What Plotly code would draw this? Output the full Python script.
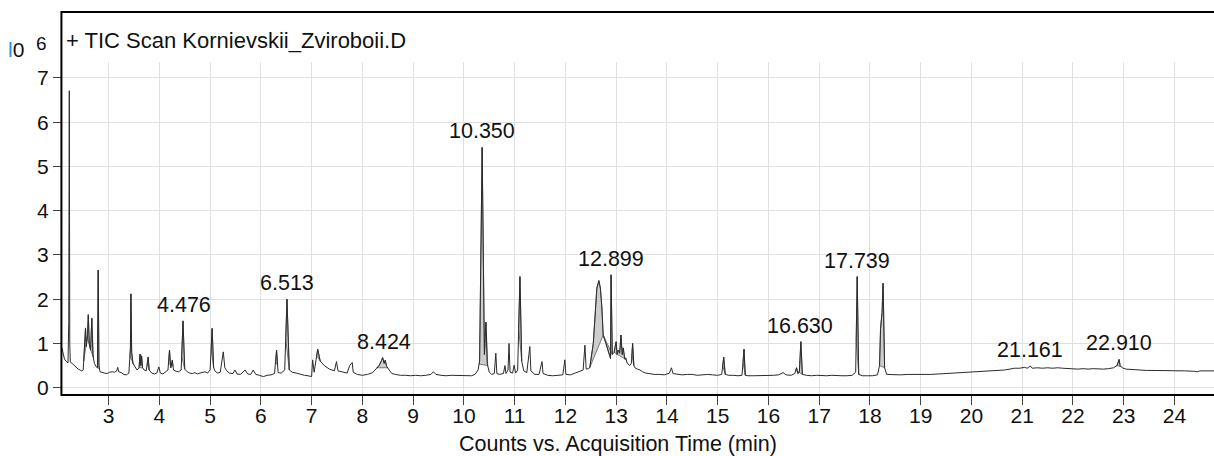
import plotly.graph_objects as go

# ---- data: retention time (min) and counts (x10^6) ----
rt = [2.08, 2.10, 2.13, 2.16, 2.20, 2.215, 2.226, 2.235, 2.245, 2.28, 2.32, 2.36, 2.40, 2.44, 2.47,
      2.50, 2.53, 2.545, 2.56, 2.585, 2.60, 2.62, 2.645, 2.67, 2.69, 2.72, 2.75, 2.78, 2.795, 2.81,
      2.83, 2.87, 2.92, 2.97, 3.02, 3.07, 3.12, 3.16, 3.18, 3.20, 3.25, 3.30, 3.35, 3.40, 3.43,
      3.44, 3.455, 3.48, 3.52, 3.56, 3.60, 3.62, 3.635, 3.65, 3.67, 3.70, 3.74, 3.78, 3.80, 3.85,
      3.90, 3.95, 3.99, 4.02, 4.07, 4.12, 4.17, 4.20, 4.225, 4.255, 4.28, 4.33, 4.38, 4.43, 4.466,
      4.50, 4.55, 4.60, 4.65, 4.70, 4.75, 4.80, 4.85, 4.90, 4.95, 5.00, 5.04, 5.07, 5.10, 5.15,
      5.20, 5.26, 5.29, 5.33, 5.38, 5.45, 5.49, 5.53, 5.60, 5.69, 5.74, 5.80, 5.85, 5.90, 5.97,
      6.05, 6.12, 6.20, 6.27, 6.31, 6.34, 6.40, 6.47, 6.515, 6.56, 6.62, 6.70, 6.78, 6.86, 6.93,
      7.00, 7.02, 7.05, 7.12, 7.17, 7.25, 7.35, 7.45, 7.49, 7.52, 7.60, 7.70, 7.75, 7.80, 7.82,
      7.90, 8.00, 8.10, 8.20, 8.28, 8.33, 8.38, 8.40, 8.43, 8.45, 8.48, 8.52, 8.58, 8.65, 8.75,
      8.85, 8.95, 9.05, 9.15, 9.25, 9.35, 9.40, 9.45, 9.55, 9.65, 9.75, 9.85, 9.95, 10.05, 10.15,
      10.22, 10.28, 10.31, 10.36, 10.405, 10.435, 10.46, 10.50, 10.55, 10.60, 10.63, 10.65, 10.70, 10.78, 10.81,
      10.83, 10.87, 10.89, 10.91, 10.96, 10.99, 11.02, 11.06, 11.105, 11.14, 11.18, 11.24, 11.30, 11.32, 11.40,
      11.48, 11.54, 11.56, 11.65, 11.75, 11.85, 11.95, 11.99, 12.01, 12.10, 12.20, 12.30, 12.35, 12.385, 12.41,
      12.45, 12.48, 12.55, 12.62, 12.66, 12.69, 12.72, 12.745, 12.80, 12.85, 12.89, 12.90, 12.925, 12.96, 13.00,
      13.02, 13.04, 13.07, 13.095, 13.12, 13.14, 13.17, 13.19, 13.22, 13.27, 13.30, 13.325, 13.35, 13.37, 13.42,
      13.47, 13.52, 13.58, 13.65, 13.75, 13.85, 13.95, 14.05, 14.09, 14.12, 14.20, 14.30, 14.40, 14.50, 14.60,
      14.70, 14.80, 14.90, 15.00, 15.08, 15.12, 15.15, 15.22, 15.30, 15.40, 15.48, 15.52, 15.545, 15.60, 15.70,
      15.80, 15.90, 16.00, 16.10, 16.20, 16.29, 16.35, 16.45, 16.52, 16.555, 16.58, 16.61, 16.64, 16.67, 16.75,
      16.85, 16.95, 17.05, 17.15, 17.25, 17.35, 17.45, 17.55, 17.65, 17.72, 17.75, 17.78, 17.85, 17.95, 18.05,
      18.15, 18.19, 18.21, 18.24, 18.26, 18.29, 18.33, 18.45, 18.60, 18.75, 18.90, 19.05, 19.20, 19.35, 19.50,
      19.70, 19.90, 20.10, 20.30, 20.36, 20.50, 20.65, 20.76, 20.85, 20.95, 21.00, 21.05, 21.10, 21.161, 21.20,
      21.30, 21.40, 21.50, 21.60, 21.70, 21.80, 21.90, 22.00, 22.10, 22.20, 22.30, 22.40, 22.50, 22.60, 22.70,
      22.80, 22.87, 22.91, 22.93, 22.97, 23.05, 23.15, 23.25, 23.35, 23.45, 23.60, 23.75, 23.90, 24.00, 24.20,
      24.40, 24.45, 24.50, 24.65, 24.80]

counts = [0.90, 0.80, 0.65, 0.60, 0.56, 1.50, 6.71, 1.00, 0.58, 0.55, 0.50, 0.47, 0.42, 0.40, 0.38,
          0.40, 1.00, 1.35, 0.93, 1.20, 1.65, 1.00, 0.85, 1.57, 0.75, 0.55, 0.48, 0.45, 2.66, 0.50,
          0.36, 0.34, 0.33, 0.32, 0.35, 0.36, 0.35, 0.38, 0.46, 0.36, 0.34, 0.30, 0.29, 0.33, 0.90,
          2.12, 0.80, 0.55, 0.48, 0.40, 0.45, 0.76, 0.50, 0.72, 0.45, 0.40, 0.38, 0.69, 0.40, 0.33,
          0.31, 0.33, 0.47, 0.33, 0.31, 0.35, 0.40, 0.85, 0.45, 0.62, 0.40, 0.37, 0.36, 0.40, 1.51,
          0.42, 0.36, 0.33, 0.32, 0.34, 0.31, 0.33, 0.35, 0.36, 0.33, 0.40, 1.34, 0.45, 0.37, 0.33,
          0.35, 0.81, 0.45, 0.38, 0.33, 0.32, 0.40, 0.31, 0.30, 0.40, 0.31, 0.30, 0.40, 0.30, 0.28,
          0.25, 0.28, 0.29, 0.32, 0.85, 0.34, 0.33, 0.40, 2.00, 0.40, 0.35, 0.33, 0.30, 0.28, 0.27,
          0.25, 0.63, 0.35, 0.87, 0.60, 0.50, 0.42, 0.38, 0.59, 0.38, 0.35, 0.33, 0.50, 0.57, 0.35,
          0.30, 0.28, 0.30, 0.34, 0.45, 0.50, 0.62, 0.68, 0.55, 0.62, 0.48, 0.42, 0.32, 0.30, 0.28,
          0.28, 0.27, 0.28, 0.27, 0.28, 0.30, 0.36, 0.30, 0.28, 0.27, 0.28, 0.28, 0.28, 0.27, 0.27,
          0.30, 0.40, 0.60, 5.43, 0.75, 1.48, 0.55, 0.35, 0.30, 0.32, 0.78, 0.32, 0.30, 0.32, 0.50,
          0.32, 0.40, 1.00, 0.35, 0.33, 0.51, 0.33, 0.40, 2.51, 0.60, 0.38, 0.34, 0.93, 0.38, 0.30,
          0.30, 0.59, 0.32, 0.28, 0.27, 0.28, 0.29, 0.63, 0.30, 0.29, 0.33, 0.37, 0.40, 0.96, 0.42,
          0.43, 0.45, 1.00, 2.25, 2.42, 2.25, 1.80, 1.19, 1.00, 0.78, 0.66, 2.55, 0.75, 0.80, 1.04,
          0.75, 0.85, 0.78, 1.19, 0.75, 0.90, 0.65, 0.67, 0.55, 0.50, 0.55, 1.00, 0.50, 0.45, 0.42,
          0.40, 0.36, 0.33, 0.32, 0.30, 0.30, 0.29, 0.33, 0.45, 0.32, 0.30, 0.29, 0.30, 0.30, 0.28,
          0.29, 0.30, 0.29, 0.28, 0.30, 0.69, 0.30, 0.28, 0.28, 0.27, 0.28, 0.87, 0.28, 0.27, 0.27,
          0.27, 0.28, 0.27, 0.28, 0.29, 0.34, 0.29, 0.28, 0.32, 0.45, 0.32, 0.35, 1.04, 0.30, 0.28,
          0.27, 0.28, 0.27, 0.27, 0.28, 0.27, 0.27, 0.27, 0.28, 0.35, 2.51, 0.30, 0.27, 0.27, 0.27,
          0.29, 0.50, 1.34, 1.70, 2.36, 0.45, 0.30, 0.29, 0.29, 0.30, 0.30, 0.29, 0.30, 0.31, 0.32,
          0.33, 0.34, 0.35, 0.36, 0.37, 0.38, 0.40, 0.42, 0.44, 0.44, 0.45, 0.46, 0.44, 0.49, 0.44,
          0.45, 0.44, 0.45, 0.44, 0.45, 0.44, 0.43, 0.43, 0.42, 0.43, 0.42, 0.43, 0.42, 0.42, 0.43,
          0.45, 0.50, 0.64, 0.50, 0.45, 0.42, 0.41, 0.40, 0.40, 0.39, 0.39, 0.39, 0.38, 0.38, 0.38,
          0.37, 0.36, 0.38, 0.38, 0.38]

# integrated peak windows (start, end) in minutes
peak_start = [2.51, 2.58, 2.64, 2.78, 3.42, 3.60, 3.76, 4.18, 4.44, 5.02, 6.29, 6.49, 7.10, 8.28,
              10.30, 11.08, 12.48, 12.745, 12.96, 13.31, 15.10, 15.50, 16.54, 17.73, 18.19, 22.87]
peak_end = [2.58, 2.64, 2.70, 2.82, 3.50, 3.67, 3.80, 4.27, 4.50, 5.07, 6.33, 6.56, 7.18, 8.50,
            10.47, 11.14, 12.745, 12.925, 13.20, 13.35, 15.15, 15.545, 16.67, 17.78, 18.29, 22.95]

# labelled peaks
label_rt = [4.476, 6.513, 8.424, 10.350, 12.899, 16.630, 17.739, 21.161, 22.910]
label_text = ["4.476", "6.513", "8.424", "10.350", "12.899", "16.630", "17.739", "21.161", "22.910"]

x_ticks = list(range(3, 25))
y_ticks = list(range(0, 8))

FONT = "Arial, 'Liberation Sans', sans-serif"


def interp(t):
    for i in range(len(rt) - 1):
        if rt[i] <= t <= rt[i + 1]:
            f = (t - rt[i]) / (rt[i + 1] - rt[i])
            return counts[i] + f * (counts[i + 1] - counts[i])
    return counts[-1]


# build fill polygons from the trace and straight integration baselines
fx, fy = [], []
for a, b in zip(peak_start, peak_end):
    ya, yb = interp(a), interp(b)
    xs = [a] + [t for t in rt if a < t < b] + [b]
    ys = [ya] + [c for t, c in zip(rt, counts) if a < t < b] + [yb]
    fx += xs + [a, None]
    fy += ys + [ya, None]

fig = go.Figure()
fig.add_trace(go.Scatter(x=fx, y=fy, mode="lines", fill="toself", fillcolor="#cdcdcd",
                         line=dict(color="#5a5a5a", width=0.8), hoverinfo="skip", showlegend=False))
fig.add_trace(go.Scatter(x=rt, y=counts, mode="lines", line=dict(color="#2b2b2b", width=1),
                         showlegend=False))

# peak labels placed above apex
for t, txt in zip(label_rt, label_text):
    apex = max([c for tt, c in zip(rt, counts) if abs(tt - t) <= 0.04] + [interp(t)])
    fig.add_annotation(x=t, y=apex, text=txt, showarrow=False, yanchor="middle", yshift=16,
                       font=dict(family=FONT, size=21.5, color="#111111"))

# header texts
fig.add_annotation(xref="paper", yref="paper", x=0.0017, y=1.066, xanchor="left", yanchor="middle",
                   text="+ TIC Scan Kornievskii_Zviroboii.D", showarrow=False,
                   font=dict(family=FONT, size=22, color="#111111"))
fig.add_annotation(xref="paper", yref="paper", x=-0.0486, y=1.039, xanchor="left", yanchor="middle",
                   text="<span style='color:#2f8fd8'>l</span>0", showarrow=False,
                   font=dict(family=FONT, size=21, color="#111111"))
fig.add_annotation(xref="paper", yref="paper", x=-0.0182, y=1.0556, xanchor="center", yanchor="middle",
                   text="6", showarrow=False, font=dict(family=FONT, size=19, color="#111111"))
fig.add_annotation(xref="paper", yref="paper", x=0.4826, y=-0.147, xanchor="center", yanchor="middle",
                   text="Counts vs. Acquisition Time (min)", showarrow=False,
                   font=dict(family=FONT, size=21.5, color="#111111"))

# frame
fig.add_shape(type="rect", xref="paper", yref="paper", x0=-0.0005, x1=1.02, y0=0, y1=1.1502,
              line=dict(color="#000000", width=2), layer="above")

fig.update_layout(
    width=1214, height=456,
    margin=dict(l=62, r=0, t=62, b=61),
    paper_bgcolor="white", plot_bgcolor="white",
    font=dict(family=FONT, size=21, color="#111111"),
    xaxis=dict(range=[2.082, 24.78], tickmode="array", tickvals=x_ticks, automargin=False,
               ticktext=[str(v) for v in x_ticks], showgrid=True, gridcolor="#e0e0e0", gridwidth=1,
               ticks="outside", ticklen=9, tickcolor="#444444", zeroline=False, showline=False,
               tickfont=dict(family=FONT, size=21, color="#111111"), ticklabelstandoff=-7),
    yaxis=dict(range=[-0.165, 7.36], tickmode="array", tickvals=y_ticks, automargin=False,
               ticktext=[str(v) for v in y_ticks], showgrid=True, gridcolor="#e0e0e0", gridwidth=1,
               ticks="outside", ticklen=8, tickcolor="#444444", zeroline=False, showline=False,
               tickfont=dict(family=FONT, size=21, color="#111111")),
)

fig.write_html("out.html", config={"displayModeBar": False},
               post_script="document.body.style.margin='0';document.body.style.overflow='hidden';")
